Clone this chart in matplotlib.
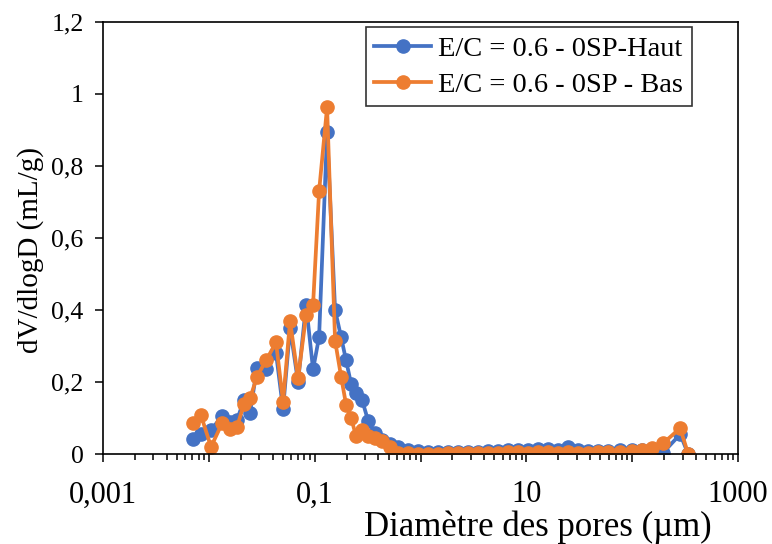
import matplotlib
matplotlib.use('Agg')
from matplotlib import pyplot as plt
from matplotlib.ticker import LogLocator, FixedLocator, FuncFormatter

# pore diameters (um), shared by both runs
diametre = [0.00709, 0.00844, 0.01049, 0.01333, 0.01586, 0.01847, 0.02151, 0.02452,
            0.02855, 0.03472, 0.04316, 0.05027, 0.05855, 0.06965, 0.08293, 0.09658,
            0.1101, 0.1310, 0.1559, 0.1777, 0.1981, 0.2208, 0.2462, 0.2805,
            0.3196, 0.3723, 0.4337, 0.5161, 0.6142, 0.7634, 0.9491, 1.180,
            1.467, 1.824, 2.267, 2.818, 3.503, 4.354, 5.414, 6.730,
            8.367, 10.40, 12.93, 16.07, 19.98, 24.84, 30.88, 38.38,
            47.71, 59.32, 77.01, 100.0, 124.3, 154.5, 196.3, 284.3, 338.1]

# dV/dlogD (mL/g)
haut = [0.042, 0.055, 0.067, 0.105, 0.09, 0.095, 0.15, 0.115,
        0.24, 0.235, 0.28, 0.125, 0.35, 0.2, 0.415, 0.235,
        0.325, 0.895, 0.40, 0.325, 0.26, 0.195, 0.17, 0.15,
        0.093, 0.058, 0.04, 0.028, 0.02, 0.012, 0.008, 0.007,
        0.006, 0.006, 0.005, 0.006, 0.007, 0.008, 0.008, 0.010,
        0.010, 0.011, 0.014, 0.013, 0.010, 0.020, 0.010, 0.008,
        0.008, 0.009, 0.010, 0.012, 0.012, 0.012, 0.004, 0.055, 0.0]

bas = [0.085, 0.107, 0.02, 0.085, 0.07, 0.075, 0.14, 0.155,
       0.215, 0.26, 0.31, 0.145, 0.37, 0.21, 0.385, 0.415,
       0.73, 0.963, 0.315, 0.215, 0.137, 0.10, 0.05, 0.067,
       0.05, 0.045, 0.035, 0.02, 0.004, 0.002, 0.001, 0.001,
       0.001, 0.002, 0.002, 0.002, 0.003, 0.003, 0.004, 0.005,
       0.006, 0.004, 0.005, 0.006, 0.004, 0.005, 0.004, 0.004,
       0.005, 0.006, 0.005, 0.008, 0.010, 0.017, 0.030, 0.072, 0.0]

labels = ['E/C = 0.6 - 0SP-Haut', 'E/C = 0.6 - 0SP - Bas']
x_labels = {0.001: '0,001', 0.1: '0,1', 10: '10', 1000: '1000'}

plt.rcParams['font.family'] = ['Liberation Serif', 'DejaVu Serif']

fig = plt.figure(figsize=(7.72, 5.44), dpi=100)
ax = fig.add_axes([0.1334, 0.1654, 0.8226, 0.7942])

ax.plot(diametre, haut, color='#4472C4', lw=2.7, marker='o', ms=9.5, label=labels[0])
ax.plot(diametre, bas, color='#ED7D31', lw=2.7, marker='o', ms=9.5, label=labels[1])

ax.set_xscale('log')
ax.set_xlim(0.001, 1000)
ax.set_ylim(0, 1.2)

# x axis: tick every decade, label every other one
ax.xaxis.set_major_locator(FixedLocator([10.0**k for k in range(-3, 4)]))
ax.xaxis.set_minor_locator(LogLocator(base=10, subs=range(2, 10), numticks=20))
ax.xaxis.set_major_formatter(FuncFormatter(
    lambda v, p: next((t for k, t in x_labels.items() if abs(v / k - 1) < 1e-6), '')))
ax.xaxis.set_minor_formatter(FuncFormatter(lambda v, p: ''))

ax.set_yticks([0, 0.2, 0.4, 0.6, 0.8, 1.0, 1.2])
ax.yaxis.set_major_formatter(FuncFormatter(lambda v, p: ('%g' % round(v, 1)).replace('.', ',')))

ax.tick_params(axis='both', which='major', direction='out', length=6, width=1.1, colors='black')
ax.tick_params(axis='x', which='minor', direction='out', length=4.5, width=1.1)
ax.tick_params(axis='x', labelsize=22, pad=13)
ax.tick_params(axis='y', labelsize=18.5, pad=8)
for s in ax.spines.values():
    s.set_linewidth(1.2)

ax.set_xlabel('Diamètre des pores (µm)', fontsize=25)
ax.xaxis.set_label_coords(0.685, -0.13)
ax.set_ylabel('dV/dlogD (mL/g)', fontsize=21)
ax.yaxis.set_label_coords(-0.093, 0.472)

leg = ax.legend(loc='upper left', bbox_to_anchor=(0.414, 0.988), fontsize=20.5,
                frameon=True, fancybox=False, edgecolor='black', handlelength=2.0,
                borderpad=0.3, labelspacing=0.35, handletextpad=0.25, borderaxespad=0)
leg.get_frame().set_linewidth(1.2)

fig.savefig('out.png', dpi=100)
